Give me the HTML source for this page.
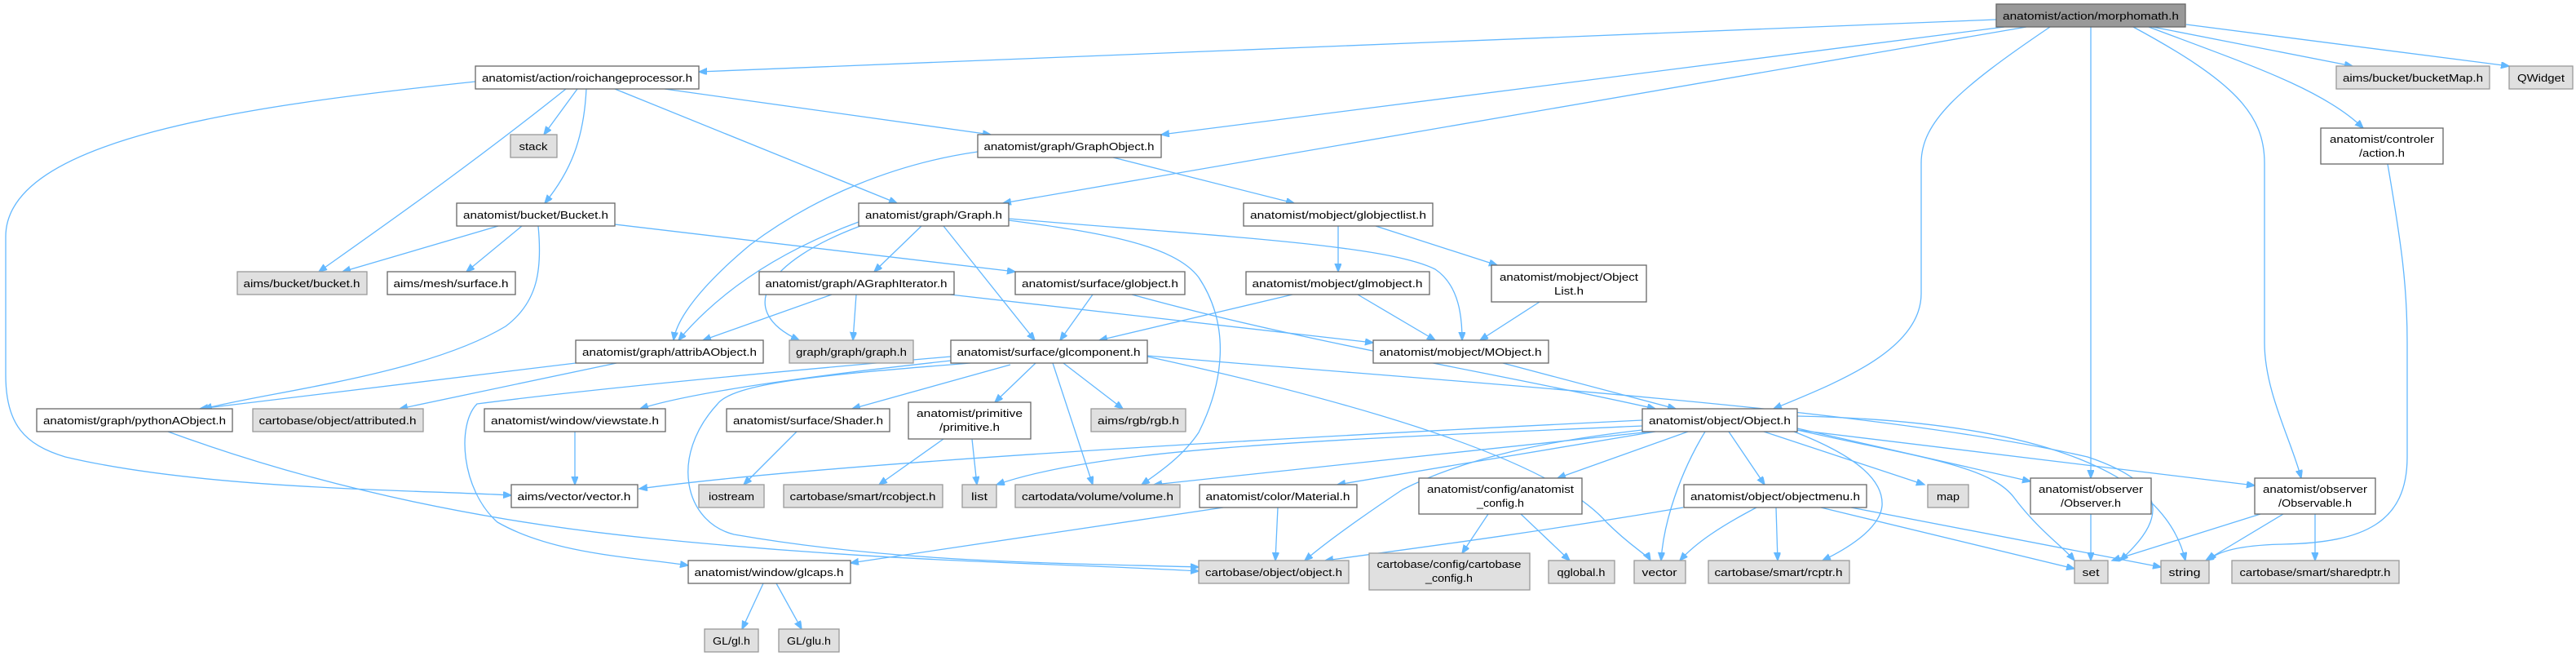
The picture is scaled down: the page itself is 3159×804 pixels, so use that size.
<!DOCTYPE html>
<html><head><meta charset="utf-8"><style>
html,body{margin:0;padding:0;background:#fff;}
svg{display:block;}
text{font-family:"Liberation Sans",sans-serif;font-size:13px;fill:#000;text-anchor:middle;}
.w{fill:#fff;stroke:#666;stroke-width:1.3;}
.g{fill:#e0e0e0;stroke:#999;stroke-width:1.3;}
.d{fill:#999;stroke:#666;stroke-width:1.3;}
path{fill:none;stroke:#63b8ff;stroke-width:1.3;marker-end:url(#a);}
</style></head><body>
<svg width="3159" height="804" viewBox="0 0 3159 804" xmlns="http://www.w3.org/2000/svg">
<defs><marker id="a" markerUnits="userSpaceOnUse" markerWidth="12" markerHeight="10" refX="10" refY="4" orient="auto"><path d="M0,0 L10,4 L0,8 Z" style="fill:#63b8ff;stroke:#63b8ff;marker-end:none"/></marker></defs>

<!-- edges -->
<path d="M2448,24 L857,88"/>
<path d="M2458,33 L1424,165"/>
<path d="M2485,33 L1230,249"/>
<path d="M2514,33 C2400,110 2356,150 2356,200 L2356,360 C2356,430 2250,470 2175,501"/>
<path d="M2564,33 L2564,586"/>
<path d="M2616,33 C2740,100 2777,140 2777,200 L2777,420 C2777,480 2810,540 2822,586"/>
<path d="M2640,33 L2885,81"/>
<path d="M2681,30 L3077,81"/>
<path d="M2635,33 C2760,80 2850,110 2898,157"/>
<path d="M2928,201 C2945,300 2952,350 2952,420 L2952,560 C2952,640 2900,665 2800,667 C2750,668 2720,675 2708,687"/>
<path d="M583,100 C300,130 7,170 7,290 L7,460 C7,520 30,545 80,560 C250,600 500,600 627,607"/>
<path d="M694,109 C580,200 480,270 391,333"/>
<path d="M708,109 L667,165"/>
<path d="M719,109 C716,170 700,210 668,249"/>
<path d="M754,109 L1100,249"/>
<path d="M815,109 L1215,165"/>
<path d="M1199,186 C1100,200 1000,240 920,300 C860,350 830,390 826,417"/>
<path d="M1365,193 L1587,249"/>
<path d="M611,277 L420,333"/>
<path d="M640,277 L572,333"/>
<path d="M660,277 C665,330 660,370 620,400 C520,460 330,480 250,501"/>
<path d="M754,275 L1245,333"/>
<path d="M1053,272 C950,310 880,360 832,417"/>
<path d="M1055,277 C940,320 900,380 980,417"/>
<path d="M1130,277 L1072,333"/>
<path d="M1157,277 L1269,417"/>
<path d="M1237,270 C1350,285 1440,300 1470,340 C1510,400 1500,470 1470,530 C1450,560 1420,580 1400,594"/>
<path d="M1237,268 C1500,290 1700,300 1760,330 C1790,350 1793,390 1793,417"/>
<path d="M1641,277 L1641,333"/>
<path d="M1687,277 L1836,325"/>
<path d="M1020,361 L862,417"/>
<path d="M1050,361 L1046,417"/>
<path d="M1165,361 L1684,420"/>
<path d="M1340,361 L1300,417"/>
<path d="M1388,361 C1600,420 1850,460 2030,501"/>
<path d="M1585,361 L1348,417"/>
<path d="M1665,361 L1760,417"/>
<path d="M1888,370 L1815,417"/>
<path d="M1843,445 L2055,501"/>
<path d="M706,445 L245,501"/>
<path d="M756,445 L490,501"/>
<path d="M1166,442 C1000,460 850,480 785,501"/>
<path d="M1239,447 L1045,501"/>
<path d="M1270,445 L1220,493"/>
<path d="M1291,445 L1340,594"/>
<path d="M1304,445 L1377,501"/>
<path d="M1166,437 C900,460 700,480 585,495 C560,520 565,600 610,640 C680,680 780,683 844,693"/>
<path d="M1190,445 C1000,460 900,470 880,495 C820,560 840,640 900,655 C1100,690 1300,690 1470,695"/>
<path d="M1407,436 C1800,470 2300,500 2560,560 C2680,600 2640,650 2600,687"/>
<path d="M1407,437 C1650,490 1900,560 1970,640 C2000,670 2020,680 2024,687"/>
<path d="M2014,515 C1500,540 1000,570 784,599"/>
<path d="M2014,522 C1600,540 1350,550 1222,594"/>
<path d="M2025,529 L1415,594"/>
<path d="M2030,529 L1640,594"/>
<path d="M2070,529 L1910,586"/>
<path d="M2120,529 L2164,594"/>
<path d="M2014,527 C1900,540 1800,560 1720,600 C1660,640 1620,670 1600,687"/>
<path d="M2091,529 C2060,580 2040,640 2037,687"/>
<path d="M2200,529 C2280,560 2310,590 2308,620 C2305,650 2260,675 2235,687"/>
<path d="M2163,529 L2360,594"/>
<path d="M2204,527 C2350,560 2440,570 2470,610 C2500,650 2530,670 2544,687"/>
<path d="M2204,510 C2450,515 2650,560 2680,687"/>
<path d="M2204,525 L2490,590"/>
<path d="M2204,527 L2765,595"/>
<path d="M2064,622 C1900,650 1750,670 1625,687"/>
<path d="M2154,622 C2110,645 2080,665 2060,687"/>
<path d="M2178,622 L2180,687"/>
<path d="M2233,622 L2544,697"/>
<path d="M2270,622 L2650,695"/>
<path d="M2564,630 L2564,687"/>
<path d="M2772,630 L2590,687"/>
<path d="M2800,630 L2705,687"/>
<path d="M2839,630 L2839,687"/>
<path d="M1567,622 L1564,687"/>
<path d="M1500,622 L1043,690"/>
<path d="M1825,630 L1793,678"/>
<path d="M1865,630 L1925,687"/>
<path d="M206,529 C400,600 600,640 800,660 C1100,690 1300,690 1470,700"/>
<path d="M705,529 L705,594"/>
<path d="M977,529 L912,594"/>
<path d="M1157,538 L1078,594"/>
<path d="M1192,538 L1198,594"/>
<path d="M936,715 L910,771"/>
<path d="M952,715 L983,771"/>

<!-- nodes -->
<rect class="d" x="2448" y="5" width="232" height="28"/><text x="2564" y="24" textLength="216" lengthAdjust="spacingAndGlyphs">anatomist/action/morphomath.h</text>
<rect class="w" x="583" y="81" width="274" height="28"/><text x="720" y="100" textLength="258" lengthAdjust="spacingAndGlyphs">anatomist/action/roichangeprocessor.h</text>
<rect class="w" x="1199" y="165" width="225" height="28"/><text x="1311" y="184" textLength="209" lengthAdjust="spacingAndGlyphs">anatomist/graph/GraphObject.h</text>
<rect class="g" x="626" y="165" width="57" height="28"/><text x="654" y="184" textLength="35" lengthAdjust="spacingAndGlyphs">stack</text>
<rect class="w" x="560" y="249" width="194" height="28"/><text x="657" y="268" textLength="178" lengthAdjust="spacingAndGlyphs">anatomist/bucket/Bucket.h</text>
<rect class="w" x="1053" y="249" width="184" height="28"/><text x="1145" y="268" textLength="168" lengthAdjust="spacingAndGlyphs">anatomist/graph/Graph.h</text>
<rect class="w" x="1525" y="249" width="232" height="28"/><text x="1641" y="268" textLength="216" lengthAdjust="spacingAndGlyphs">anatomist/mobject/globjectlist.h</text>
<rect class="g" x="2865" y="81" width="188" height="28"/><text x="2959" y="100" textLength="172" lengthAdjust="spacingAndGlyphs">aims/bucket/bucketMap.h</text>
<rect class="g" x="3077" y="81" width="78" height="28"/><text x="3116" y="100" textLength="58" lengthAdjust="spacingAndGlyphs">QWidget</text>
<rect class="w" x="2846" y="157" width="150" height="44"/><text x="2921" y="175" textLength="128" lengthAdjust="spacingAndGlyphs">anatomist/controler</text><text x="2921" y="192" textLength="56" lengthAdjust="spacingAndGlyphs">/action.h</text>
<rect class="g" x="291" y="333" width="159" height="28"/><text x="370" y="352" textLength="143" lengthAdjust="spacingAndGlyphs">aims/bucket/bucket.h</text>
<rect class="w" x="475" y="333" width="157" height="28"/><text x="553" y="352" textLength="141" lengthAdjust="spacingAndGlyphs">aims/mesh/surface.h</text>
<rect class="w" x="931" y="333" width="239" height="28"/><text x="1050" y="352" textLength="223" lengthAdjust="spacingAndGlyphs">anatomist/graph/AGraphIterator.h</text>
<rect class="w" x="1245" y="333" width="208" height="28"/><text x="1349" y="352" textLength="192" lengthAdjust="spacingAndGlyphs">anatomist/surface/globject.h</text>
<rect class="w" x="1528" y="333" width="225" height="28"/><text x="1640" y="352" textLength="209" lengthAdjust="spacingAndGlyphs">anatomist/mobject/glmobject.h</text>
<rect class="w" x="1829" y="325" width="190" height="45"/><text x="1924" y="344" textLength="170" lengthAdjust="spacingAndGlyphs">anatomist/mobject/Object</text><text x="1924" y="361" textLength="36" lengthAdjust="spacingAndGlyphs">List.h</text>
<rect class="w" x="706" y="417" width="230" height="28"/><text x="821" y="436" textLength="214" lengthAdjust="spacingAndGlyphs">anatomist/graph/attribAObject.h</text>
<rect class="g" x="968" y="417" width="152" height="28"/><text x="1044" y="436" textLength="136" lengthAdjust="spacingAndGlyphs">graph/graph/graph.h</text>
<rect class="w" x="1166" y="417" width="241" height="28"/><text x="1286" y="436" textLength="225" lengthAdjust="spacingAndGlyphs">anatomist/surface/glcomponent.h</text>
<rect class="w" x="1684" y="417" width="215" height="28"/><text x="1791" y="436" textLength="199" lengthAdjust="spacingAndGlyphs">anatomist/mobject/MObject.h</text>
<rect class="w" x="45" y="501" width="240" height="28"/><text x="165" y="520" textLength="224" lengthAdjust="spacingAndGlyphs">anatomist/graph/pythonAObject.h</text>
<rect class="g" x="310" y="501" width="209" height="28"/><text x="414" y="520" textLength="193" lengthAdjust="spacingAndGlyphs">cartobase/object/attributed.h</text>
<rect class="w" x="594" y="501" width="222" height="28"/><text x="705" y="520" textLength="206" lengthAdjust="spacingAndGlyphs">anatomist/window/viewstate.h</text>
<rect class="w" x="891" y="501" width="200" height="28"/><text x="991" y="520" textLength="184" lengthAdjust="spacingAndGlyphs">anatomist/surface/Shader.h</text>
<rect class="w" x="1114" y="493" width="150" height="45"/><text x="1189" y="511" textLength="130" lengthAdjust="spacingAndGlyphs">anatomist/primitive</text><text x="1189" y="528" textLength="74" lengthAdjust="spacingAndGlyphs">/primitive.h</text>
<rect class="g" x="1338" y="501" width="116" height="28"/><text x="1396" y="520" textLength="100" lengthAdjust="spacingAndGlyphs">aims/rgb/rgb.h</text>
<rect class="w" x="2014" y="501" width="190" height="28"/><text x="2109" y="520" textLength="174" lengthAdjust="spacingAndGlyphs">anatomist/object/Object.h</text>
<rect class="w" x="627" y="594" width="155" height="28"/><text x="704" y="613" textLength="139" lengthAdjust="spacingAndGlyphs">aims/vector/vector.h</text>
<rect class="g" x="857" y="594" width="80" height="28"/><text x="897" y="613" textLength="56" lengthAdjust="spacingAndGlyphs">iostream</text>
<rect class="g" x="961" y="594" width="195" height="28"/><text x="1058" y="613" textLength="179" lengthAdjust="spacingAndGlyphs">cartobase/smart/rcobject.h</text>
<rect class="g" x="1180" y="594" width="42" height="28"/><text x="1201" y="613" textLength="20" lengthAdjust="spacingAndGlyphs">list</text>
<rect class="g" x="1245" y="594" width="202" height="28"/><text x="1346" y="613" textLength="186" lengthAdjust="spacingAndGlyphs">cartodata/volume/volume.h</text>
<rect class="w" x="1471" y="594" width="193" height="28"/><text x="1567" y="613" textLength="177" lengthAdjust="spacingAndGlyphs">anatomist/color/Material.h</text>
<rect class="w" x="1740" y="586" width="200" height="44"/><text x="1840" y="604" textLength="180" lengthAdjust="spacingAndGlyphs">anatomist/config/anatomist</text><text x="1840" y="621" textLength="58" lengthAdjust="spacingAndGlyphs">_config.h</text>
<rect class="w" x="2065" y="594" width="224" height="28"/><text x="2177" y="613" textLength="208" lengthAdjust="spacingAndGlyphs">anatomist/object/objectmenu.h</text>
<rect class="g" x="2364" y="594" width="50" height="28"/><text x="2389" y="613" textLength="28" lengthAdjust="spacingAndGlyphs">map</text>
<rect class="w" x="2490" y="586" width="148" height="44"/><text x="2564" y="604" textLength="128" lengthAdjust="spacingAndGlyphs">anatomist/observer</text><text x="2564" y="621" textLength="74" lengthAdjust="spacingAndGlyphs">/Observer.h</text>
<rect class="w" x="2765" y="586" width="148" height="44"/><text x="2839" y="604" textLength="128" lengthAdjust="spacingAndGlyphs">anatomist/observer</text><text x="2839" y="621" textLength="90" lengthAdjust="spacingAndGlyphs">/Observable.h</text>
<rect class="w" x="844" y="687" width="199" height="28"/><text x="943" y="706" textLength="183" lengthAdjust="spacingAndGlyphs">anatomist/window/glcaps.h</text>
<rect class="g" x="1470" y="687" width="184" height="28"/><text x="1562" y="706" textLength="168" lengthAdjust="spacingAndGlyphs">cartobase/object/object.h</text>
<rect class="g" x="1679" y="678" width="197" height="45"/><text x="1777" y="696" textLength="177" lengthAdjust="spacingAndGlyphs">cartobase/config/cartobase</text><text x="1777" y="713" textLength="58" lengthAdjust="spacingAndGlyphs">_config.h</text>
<rect class="g" x="1899" y="687" width="81" height="28"/><text x="1939" y="706" textLength="59" lengthAdjust="spacingAndGlyphs">qglobal.h</text>
<rect class="g" x="2004" y="687" width="63" height="28"/><text x="2035" y="706" textLength="43" lengthAdjust="spacingAndGlyphs">vector</text>
<rect class="g" x="2095" y="687" width="173" height="28"/><text x="2181" y="706" textLength="157" lengthAdjust="spacingAndGlyphs">cartobase/smart/rcptr.h</text>
<rect class="g" x="2544" y="687" width="41" height="28"/><text x="2564" y="706" textLength="21" lengthAdjust="spacingAndGlyphs">set</text>
<rect class="g" x="2650" y="687" width="59" height="28"/><text x="2679" y="706" textLength="39" lengthAdjust="spacingAndGlyphs">string</text>
<rect class="g" x="2737" y="687" width="205" height="28"/><text x="2839" y="706" textLength="185" lengthAdjust="spacingAndGlyphs">cartobase/smart/sharedptr.h</text>
<rect class="g" x="864" y="771" width="66" height="28"/><text x="897" y="790" textLength="46" lengthAdjust="spacingAndGlyphs">GL/gl.h</text>
<rect class="g" x="955" y="771" width="74" height="28"/><text x="992" y="790" textLength="54" lengthAdjust="spacingAndGlyphs">GL/glu.h</text>
</svg>
</body></html>
